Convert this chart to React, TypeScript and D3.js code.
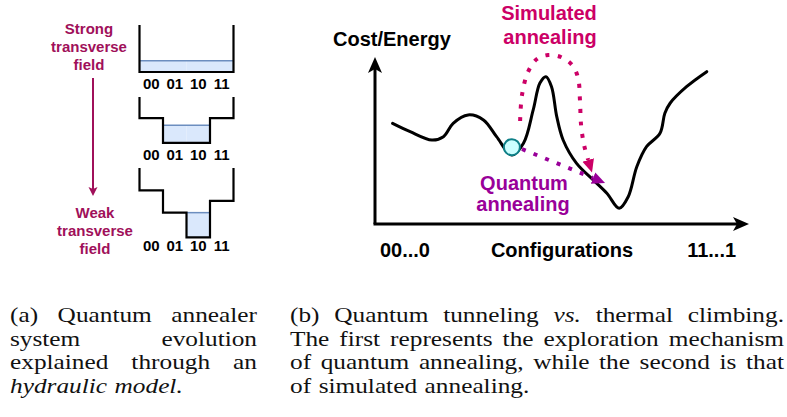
import React, { useLayoutEffect, useRef } from 'react';
import * as d3 from 'd3';

// ---- (a) hydraulic model ----
const configs = ['00', '01', '10', '11'];
// floor depth of every configuration cell, per stage (strong -> weak field)
const wellFloors = [
  [4, 4, 4, 4],
  [1.8, 3.9, 3.9, 1.8],
  [1.9, 3.8, 5.9, 2.8],
];
const waterLevels = [3.05, 2.4, 3.8];

// ---- (b) energy landscape ----
const landscapeX = [4.7, 9.4, 15.2, 18.3, 20.9, 24.9, 29.0, 32.5, 36.6, 39.7, 42.3, 44.1, 45.7, 47.2, 48.6, 50.3, 53.9, 58.4, 62.0, 65.3, 67.7, 70.0, 72.6, 76.2, 77.5, 78.9, 83.3, 88.7];
const landscapeY = [60.3, 55.3, 50.3, 52.3, 60.3, 65.3, 62.3, 52.3, 41.3, 48.3, 68.3, 84.4, 88.2, 82.2, 64.3, 50.3, 36.3, 26.3, 18.4, 9.4, 16.3, 34.3, 46.3, 54.3, 66.3, 72.3, 82.2, 91.2];
const ballPos = [36.6, 46];
const simulatedX = [38.8, 39.3, 40.9, 43.3, 46.3, 49.7, 52.7, 54.3, 54.8, 55.1, 55.9, 57.0];
const simulatedY = [61.7, 77.2, 91.0, 98.8, 101.2, 100, 95.2, 87.4, 74.3, 59.3, 47.3, 38.3];
const quantumX = [39.3, 58.3];
const quantumY = [44.9, 27.5];
const xTickPos = [8, 50, 90];
const xTickLabels = ['00...0', 'Configurations', '11...1'];

const SANS = 'Liberation Sans, Arial, sans-serif';
const SERIF = 'Liberation Serif, serif';
const FIELD = '#A0105A';
const SIM = '#CC0066';
const QUANT = '#990099';

// captions: words per line; "_" marks an italic word; last line of each is left aligned
const captionA = [
  ['(a)', 'Quantum', 'annealer'],
  ['system', 'evolution'],
  ['explained', 'through', 'an'],
  ['_hydraulic', '_model.'],
];
const captionB = [
  ['(b)', 'Quantum', 'tunneling', '_vs.', 'thermal', 'climbing.'],
  ['The', 'first', 'represents', 'the', 'exploration', 'mechanism'],
  ['of', 'quantum', 'annealing,', 'while', 'the', 'second', 'is', 'that'],
  ['of', 'simulated', 'annealing.'],
];
const captionY = [322, 345.5, 369, 393];
const CAP_FONT = 22;
const WIDEN = 1.15;

function Caption({ lines, x0, x1 }: { lines: string[][]; x0: number; x1: number }) {
  const ref = useRef<SVGGElement>(null);
  useLayoutEffect(() => {
    const g = ref.current;
    if (!g) return;
    lines.forEach((words, li) => {
      const nodes = Array.from(g.querySelectorAll(`text[data-line="${li}"]`)) as SVGTextElement[];
      nodes.forEach(n => n.removeAttribute('textLength'));
      const widths = nodes.map(n => n.getComputedTextLength() * WIDEN);
      const total = d3.sum(widths);
      const last = li === lines.length - 1;
      const gap = last || words.length < 2
        ? CAP_FONT * 0.3 * WIDEN
        : (x1 - x0 - total) / (words.length - 1);
      let cx = x0;
      nodes.forEach((n, i) => {
        n.setAttribute('x', String(cx));
        n.setAttribute('textLength', String(widths[i]));
        n.setAttribute('lengthAdjust', 'spacingAndGlyphs');
        cx += widths[i] + gap;
      });
    });
  }, [lines, x0, x1]);
  return (
    <g ref={ref} fontFamily={SERIF} fontSize={CAP_FONT} fill="#111">
      {lines.map((words, li) =>
        words.map((w, wi) => (
          <text key={`${li}-${wi}`} data-line={li} x={x0} y={captionY[li]}
            fontStyle={w.startsWith('_') ? 'italic' : 'normal'}>{w.replace(/^_/, '')}</text>
        ))
      )}
    </g>
  );
}

const stageTop = [25, 97, 168];
const labelY = [89, 160, 251];

export default function App() {
  const band = d3.scaleBand<string>().domain(configs).range([139.5, 233.5]);
  const step = band.step();
  const depth = d3.scaleLinear().domain([0, 6]).range([0, 70.5]);
  const straight = d3.line<[number, number]>();

  const x = d3.scaleLinear().domain([0, 100]).range([375, 749]);
  const y = d3.scaleLinear().domain([0, 100]).range([224, 57]);
  const smooth = d3.line<[number, number]>()
    .x(d => x(d[0])).y(d => y(d[1]))
    .curve(d3.curveCatmullRom.alpha(0.5));

  const landscape = landscapeX.map((v, i) => [v, landscapeY[i]] as [number, number]);
  const simulated = simulatedX.map((v, i) => [v, simulatedY[i]] as [number, number]);
  const quantum = quantumX.map((v, i) => [v, quantumY[i]] as [number, number]);

  return (
    <svg width={787} height={417} style={{ position: 'absolute', left: 0, top: 0, background: '#fff' }}>
      <defs>
        <marker id="axisHead" markerUnits="userSpaceOnUse" viewBox="0 -8 17 16" refX={4} refY={0}
          markerWidth={17} markerHeight={16} orient="auto">
          <path d="M0,-7 L16,0 L0,7 L4,0 Z" fill="#000" />
        </marker>
        <marker id="fieldHead" markerUnits="userSpaceOnUse" viewBox="0 -5 10 10" refX={2} refY={0}
          markerWidth={10} markerHeight={10} orient="auto">
          <path d="M0,-4.5 L9,0 L0,4.5 L2,0 Z" fill={FIELD} />
        </marker>
        <marker id="simHead" markerUnits="userSpaceOnUse" viewBox="0 -7 14 14" refX={0} refY={0}
          markerWidth={14} markerHeight={14} orient="auto">
          <path d="M0,-6 L13,0 L0,6 Z" fill={SIM} />
        </marker>
        <marker id="quantHead" markerUnits="userSpaceOnUse" viewBox="0 -7 14 14" refX={0} refY={0}
          markerWidth={14} markerHeight={14} orient="auto">
          <path d="M0,-6 L13,0 L0,6 Z" fill={QUANT} />
        </marker>
      </defs>

      {/* (a) field labels and arrow */}
      <g fontFamily={SANS} fontWeight="bold" fontSize={15} fill={FIELD} textAnchor="middle">
        <text x={89} y={34}>Strong</text>
        <text x={89} y={52}>transverse</text>
        <text x={89} y={70}>field</text>
        <text x={95} y={218}>Weak</text>
        <text x={95} y={236}>transverse</text>
        <text x={95} y={254}>field</text>
      </g>
      <line x1={93} y1={78} x2={93} y2={189} stroke={FIELD} strokeWidth={2} markerEnd="url(#fieldHead)" />

      {/* (a) wells */}
      {wellFloors.map((floors, s) => {
        const top = stageTop[s];
        const pts: [number, number][] = [[band('00')!, top]];
        configs.forEach((c, j) => {
          const f = top + depth(floors[j]);
          pts.push([band(c)!, f], [band(c)! + step, f]);
        });
        pts.push([band('11')! + step, top]);
        const wl = top + depth(waterLevels[s]);
        const wet = configs.filter((c, j) => floors[j] > waterLevels[s]);
        const wx0 = band(wet[0])!;
        const wx1 = band(wet[wet.length - 1])! + step;
        return (
          <g key={s}>
            {wet.map(c => {
              const j = configs.indexOf(c);
              return <rect key={c} x={band(c)} y={wl} width={step} height={top + depth(floors[j]) - wl}
                fill="#dae8fc" />;
            })}
            <line x1={wx0} x2={wx1} y1={wl} y2={wl} stroke="#6c8ebf" strokeWidth={1.5} />
            <path d={straight(pts)!} fill="none" stroke="#000" strokeWidth={2.2} />
            <g fontFamily={SANS} fontWeight="bold" fontSize={15} textAnchor="middle" fill="#000">
              {configs.map(c => (
                <text key={c} x={band(c)! + step / 2} y={labelY[s]}>{c}</text>
              ))}
            </g>
          </g>
        );
      })}

      {/* (b) axes */}
      <line x1={x(0)} y1={y(0)} x2={x(0)} y2={y(100) + 12} stroke="#000" strokeWidth={3}
        markerEnd="url(#axisHead)" />
      <line x1={x(0) - 1.5} y1={y(0)} x2={x(100) - 12} y2={y(0)} stroke="#000" strokeWidth={3}
        markerEnd="url(#axisHead)" />
      <text x={333} y={45.5} fontFamily={SANS} fontWeight="bold" fontSize={20} fill="#000">Cost/Energy</text>
      <g fontFamily={SANS} fontWeight="bold" fontSize={20} textAnchor="middle" fill="#000">
        {xTickLabels.map((t, i) => (
          <text key={t} x={x(xTickPos[i])} y={257}>{t}</text>
        ))}
      </g>

      {/* (b) landscape */}
      <path d={smooth(landscape)!} fill="none" stroke="#000" strokeWidth={3} strokeLinecap="round" />
      <path d={smooth(simulated)!} fill="none" stroke={SIM} strokeWidth={4} strokeDasharray="4 8.5"
        markerEnd="url(#simHead)" />
      <circle cx={x(ballPos[0])} cy={y(ballPos[1])} r={8} fill="#ccffff" stroke="#0e8088" strokeWidth={2} />
      <path d={smooth(quantum)!} fill="none" stroke={QUANT} strokeWidth={4} strokeDasharray="4 8.5"
        markerEnd="url(#quantHead)" />

      <g fontFamily={SANS} fontWeight="bold" fontSize={20} textAnchor="middle">
        <text x={549} y={20} fill={SIM}>Simulated</text>
        <text x={550} y={44} fill={SIM}>annealing</text>
        <text x={524} y={189.5} fill={QUANT}>Quantum</text>
        <text x={523} y={211} fill={QUANT}>annealing</text>
      </g>

      {/* captions */}
      <Caption lines={captionA} x0={10} x1={257} />
      <Caption lines={captionB} x0={290} x1={784} />
    </svg>
  );
}
